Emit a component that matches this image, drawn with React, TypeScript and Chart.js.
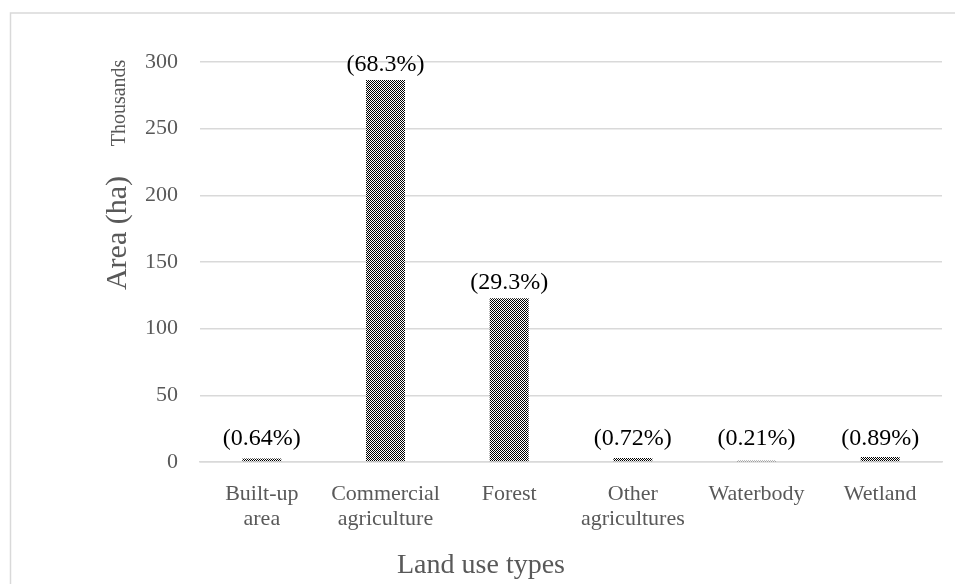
import React, { useEffect, useRef } from "react";
import { Chart, registerables } from "chart.js";

Chart.register(...registerables);

const categories: (string | string[])[] = [
  ["Built-up", "area"],
  ["Commercial", "agriculture"],
  "Forest",
  ["Other", "agricultures"],
  "Waterbody",
  "Wetland",
];
const areaThousands: number[] = [2.68, 286.5, 122.9, 3.02, 0.88, 3.73];
const shareLabels: string[] = ["(0.64%)", "(68.3%)", "(29.3%)", "(0.72%)", "(0.21%)", "(0.89%)"];
const yTicks: number[] = [0, 50, 100, 150, 200, 250, 300];
const yTitle = "Area (ha)";
const unitsLabel = "Thousands";
const xTitle = "Land use types";

const FONT = '"Liberation Serif", "Times New Roman", serif';

function makePattern(): CanvasPattern | string {
  const c = document.createElement("canvas");
  c.width = 2;
  c.height = 2;
  const g = c.getContext("2d");
  if (!g) return "#555";
  g.fillStyle = "#ffffff";
  g.fillRect(0, 0, 2, 2);
  g.fillStyle = "#000000";
  g.fillRect(0, 0, 1, 1);
  g.fillRect(1, 1, 1, 1);
  const p = g.createPattern(c, "repeat");
  return p || "#555";
}

export default function App() {
  const ref = useRef<HTMLCanvasElement | null>(null);
  useEffect(() => {
    if (!ref.current) return;
    const pattern = makePattern();

    const decor = {
      id: "decor",
      beforeDraw(chart: any) {
        const ctx = chart.ctx;
        ctx.save();
        ctx.strokeStyle = "#d9d9d9";
        ctx.lineWidth = 1.5;
        ctx.strokeRect(10.5, 13, 1000, 1000);
        ctx.restore();
      },
      afterDatasetsDraw(chart: any) {
        const ctx = chart.ctx;
        const meta = chart.getDatasetMeta(0);
        const base = chart.scales.y.getPixelForValue(0);
        ctx.save();
        ctx.font = `24px ${FONT}`;
        ctx.fillStyle = "#000000";
        ctx.textAlign = "center";
        ctx.textBaseline = "alphabetic";
        meta.data.forEach((el: any, i: number) => {
          const y = Math.min(el.y - 9, base - 17);
          ctx.fillText(shareLabels[i], el.x, y);
        });
        ctx.restore();
      },
      afterDraw(chart: any) {
        const ctx = chart.ctx;
        const area = chart.chartArea;
        ctx.save();
        ctx.fillStyle = "#595959";
        ctx.textAlign = "center";
        ctx.textBaseline = "middle";
        ctx.font = `28px ${FONT}`;
        ctx.fillText(xTitle, 481, 566);
        ctx.font = `30px ${FONT}`;
        ctx.translate(118, 233);
        ctx.rotate(-Math.PI / 2);
        ctx.fillText(yTitle, 0, 0);
        ctx.restore();
        ctx.save();
        ctx.fillStyle = "#595959";
        ctx.textAlign = "center";
        ctx.textBaseline = "middle";
        ctx.font = `20px ${FONT}`;
        ctx.translate(120, area.top + 41);
        ctx.rotate(-Math.PI / 2);
        ctx.fillText(unitsLabel, 0, 0);
        ctx.restore();
      },
    };

    const chart = new Chart(ref.current, {
      type: "bar",
      data: {
        labels: categories,
        datasets: [
          {
            data: areaThousands,
            backgroundColor: pattern as any,
            borderWidth: 0,
            categoryPercentage: 1,
            barPercentage: 0.315,
          },
        ],
      },
      options: {
        animation: false,
        responsive: false,
        maintainAspectRatio: false,
        layout: { padding: { top: 62, right: 13, left: 0, bottom: 0 } },
        plugins: {
          legend: { display: false },
          tooltip: { enabled: false },
          title: { display: false },
        },
        scales: {
          x: {
            grid: { display: false, drawTicks: false },
            border: { display: true, color: "#d9d9d9", width: 1.5 },
            ticks: {
              color: "#595959",
              font: { family: FONT, size: 22, lineHeight: 1.17 },
              padding: 19,
              maxRotation: 0,
              autoSkip: false,
            },
            afterFit(scale: any) {
              scale.height = 122;
            },
          },
          y: {
            min: 0,
            max: 300,
            afterBuildTicks(scale: any) {
              scale.ticks = yTicks.map((v) => ({ value: v }));
            },
            grid: { color: "#d9d9d9", lineWidth: 1.5, drawTicks: false },
            border: { display: false },
            ticks: {
              color: "#595959",
              font: { family: FONT, size: 22 },
              padding: 22,
            },
            afterFit(scale: any) {
              scale.width = 200;
            },
          },
        },
      },
      plugins: [decor],
    });
    return () => chart.destroy();
  }, []);

  return (
    <div style={{ position: "fixed", left: 0, top: 0, width: 955, height: 584, background: "#fff" }}>
      <canvas ref={ref} width={955} height={584} style={{ width: 955, height: 584 }} />
    </div>
  );
}
